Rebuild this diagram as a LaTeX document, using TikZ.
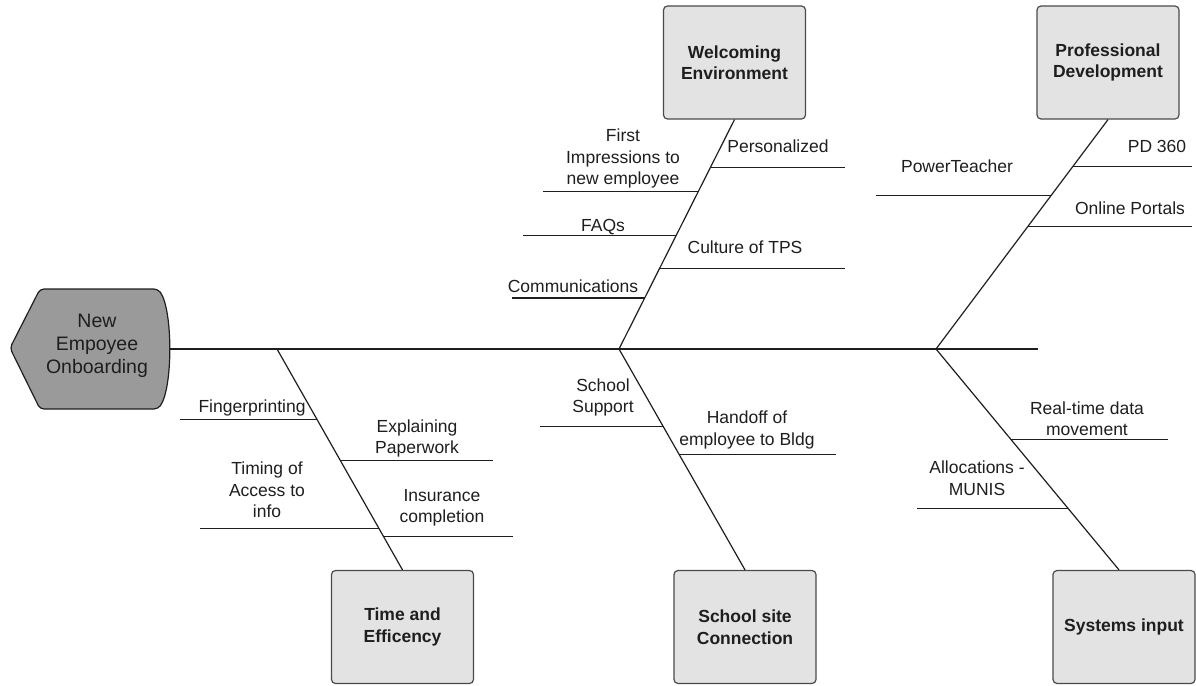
\documentclass[tikz,border=0pt]{standalone}
\usepackage{fontspec}
\setmainfont{Liberation Sans}
\usetikzlibrary{calc}
\definecolor{ink}{HTML}{1E1E1E}
\definecolor{boxfill}{HTML}{E3E3E3}
\definecolor{boxline}{HTML}{4A4A4A}
\definecolor{headfill}{HTML}{9A9A9A}
\tikzset{
  bone/.style={draw=ink, line width=1.2pt},
  catbox/.style={draw=boxline, fill=boxfill, line width=1.2pt, rounded corners=4pt,
    minimum width=142pt, minimum height=113pt, align=center, text=ink,
    font=\fontsize{17.5}{21.5}\selectfont\bfseries},
  cause/.style={align=center, text=ink, inner sep=0pt,
    font=\fontsize{17.5}{21.5}\selectfont},
  headtext/.style={align=center, text=ink, inner sep=0pt,
    font=\fontsize{19.5}{23}\selectfont},
}
\begin{document}
\begin{tikzpicture}[x=1pt,y=-1pt]
\useasboundingbox (0,0) rectangle (1196,685);

% head of the fish
\draw[draw=ink, fill=headfill, line width=1.2pt, rounded corners=4pt]
  (10,348) -- (40,289) -- (158,289)
  .. controls (173,310) and (173,388) .. (158,409)
  -- (40,409) -- cycle;
\node[headtext] (head) at (97,346) {New\\Empoyee\\Onboarding};

% spine and junctions
\coordinate (s0) at (170,349);
\coordinate (s1) at (1038,349);
\coordinate (j1) at (277,349);
\coordinate (j2) at (619,349);
\coordinate (j3) at (936,349);
\draw[bone] (s0) -- (s1);

% category boxes
\node[catbox] (welc) at (734.5,62.5) {Welcoming\\Environment};
\node[catbox] (prof) at (1108,62.5) {Professional\\Development};
\node[catbox] (time) at (402.5,627) {Time and\\Efficency};
\node[catbox] (site) at (745,627) {School site\\Connection};
\node[catbox] (sys)  at (1124,627) {Systems input};
\coordinate (sysb) at ([xshift=-5pt]sys.north);

% main bones
\draw[bone] (welc.south) -- (j2);
\draw[bone] (prof.south) -- (j3);
\draw[bone] (time.north) -- (j1);
\draw[bone] (site.north) -- (j2);
\draw[bone] (sysb) -- (j3);

% Welcoming Environment causes
\draw[bone] ($(welc.south)!0.209!(j2)$) -- ++(135,0);
\draw[bone] ($(welc.south)!0.313!(j2)$) -- ++(-155,0);
\draw[bone] ($(welc.south)!0.504!(j2)$) -- ++(-153,0);
\draw[bone] ($(welc.south)!0.648!(j2)$) -- ++(185,0);
\draw[bone] ($(welc.south)!0.778!(j2)$) -- ++(-133,0);
\node[cause] (c1) at (778,146) {Personalized};
\node[cause] (c2) at (623,158.5) {First\\Impressions to\\new employee};
\node[cause] (c3) at (603,227) {FAQs};
\node[cause] (c4) at (745,247) {Culture of TPS};
\node[cause] (c5) at (573,286) {Communications};

% Professional Development causes
\draw[bone] ($(prof.south)!0.204!(j3)$) -- ++(119,0);
\draw[bone] ($(prof.south)!0.330!(j3)$) -- ++(-175,0);
\draw[bone] ($(prof.south)!0.465!(j3)$) -- ++(164,0);
\node[cause] (c6) at (1157,146) {PD 360};
\node[cause] (c7) at (957,166) {PowerTeacher};
\node[cause] (c8) at (1130,208) {Online Portals};

% Time and Efficency causes
\draw[bone] ($(time.north)!0.680!(j1)$) -- ++(-137,0);
\draw[bone] ($(time.north)!0.495!(j1)$) -- ++(153,0);
\draw[bone] ($(time.north)!0.189!(j1)$) -- ++(-179,0);
\draw[bone] ($(time.north)!0.153!(j1)$) -- ++(130,0);
\node[cause] (c9)  at (252,408) {Fingerprinting};
\node[cause] (c10) at (417,438.5) {Explaining\\Paperwork};
\node[cause] (c11) at (267,490) {Timing of\\Access to\\info};
\node[cause] (c12) at (442,508) {Insurance\\completion};

% School site Connection causes
\draw[bone] ($(site.north)!0.649!(j2)$) -- ++(-123,0);
\draw[bone] ($(site.north)!0.523!(j2)$) -- ++(157,0);
\node[cause] (c13) at (603,397.5) {School\\Support};
\node[cause] (c14) at (747,430) {Handoff of\\employee to Bldg};

% Systems input causes
\draw[bone] ($(sysb)!0.590!(j3)$) -- ++(157,0);
\draw[bone] ($(sysb)!0.279!(j3)$) -- ++(-151,0);
\node[cause] (c15) at (1087,418.5) {Real-time data\\movement};
\node[cause] (c16) at (977,478) {Allocations -\\MUNIS};
\end{tikzpicture}
\end{document}
